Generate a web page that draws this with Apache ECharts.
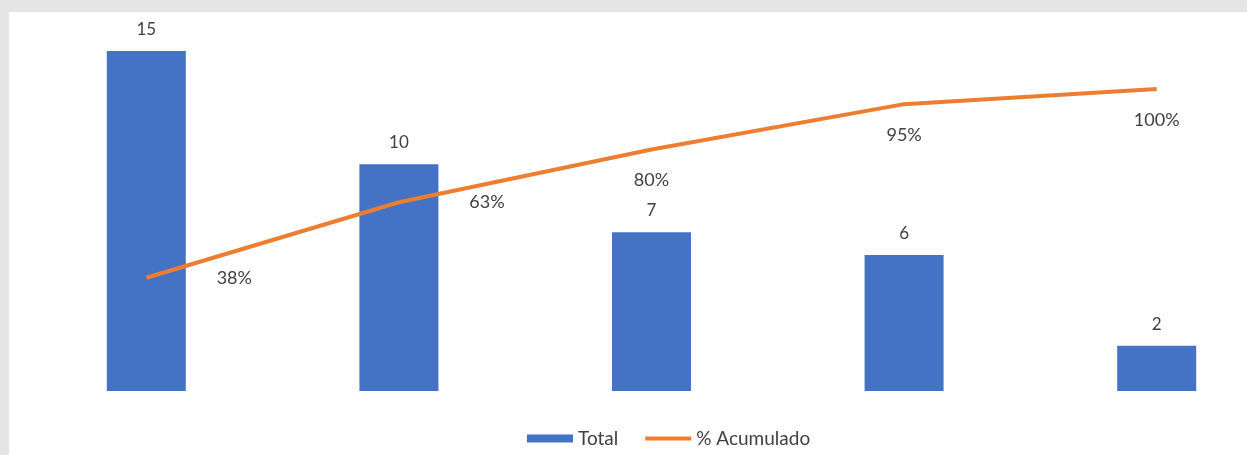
<!DOCTYPE html>
<html>
<head>
<meta charset="utf-8">
<script src="https://cdn.jsdelivr.net/npm/echarts@6/dist/echarts.min.js"></script>
<style>
  html, body { margin: 0; padding: 0; background: #e5e5e5; }
  #main { width: 1247px; height: 455px; }
</style>
</head>
<body>
<div id="main"></div>
<script>
// datos del pareto
var categorias = ['A', 'B', 'C', 'D', 'E'];
var totales = [15, 10, 7, 6, 2];
var acumulado = [37.5, 62.5, 80, 95, 100];
// desplazamiento de las etiquetas del % acumulado (px)
var offsetsEtiqueta = [[88, 0], [88, 0], [0, 31], [0, 31], [0, 31]];

var fuente = 'Lato, "Open Sans", sans-serif';
var colorTexto = '#404040';

var chart = echarts.init(document.getElementById('main'), null, { renderer: 'canvas' });

var option = {
  backgroundColor: '#e5e5e5',
  animation: false,
  textStyle: { fontFamily: fuente },
  graphic: [{
    type: 'rect',
    left: 9,
    top: 12,
    z: -10,
    shape: { width: 1238, height: 443 },
    style: { fill: '#ffffff' }
  }],
  grid: {
    left: 20,
    top: 51,
    width: 1263,
    height: 340,
    outerBoundsMode: 'none'
  },
  legend: {
    left: 522,
    top: 424,
    itemWidth: 46,
    itemHeight: 8,
    itemGap: 25,
    textStyle: { fontFamily: fuente, fontSize: 19, color: colorTexto },
    data: [
      { name: 'Total', icon: 'rect' },
      { name: '% Acumulado', itemStyle: { opacity: 0 }, lineStyle: { width: 4 } }
    ]
  },
  xAxis: {
    type: 'category',
    data: categorias,
    show: false
  },
  yAxis: [
    { type: 'value', min: 0, max: 15, show: false },
    { type: 'value', min: 0, max: 112.6, show: false }
  ],
  series: [
    {
      name: 'Total',
      type: 'bar',
      barWidth: 79,
      itemStyle: { color: '#4472C4' },
      label: {
        show: true,
        position: 'top',
        distance: 13,
        fontFamily: fuente,
        fontSize: 17,
        color: colorTexto
      },
      data: totales
    },
    {
      name: '% Acumulado',
      type: 'line',
      yAxisIndex: 1,
      symbol: 'circle',
      symbolSize: 0,
      lineStyle: { color: '#ED7D31', width: 4 },
      itemStyle: { color: '#ED7D31' },
      data: acumulado.map(function (v, i) {
        return {
          value: v,
          label: {
            show: true,
            position: 'inside',
            offset: offsetsEtiqueta[i],
            fontFamily: fuente,
            fontSize: 18,
            color: colorTexto,
            formatter: function (p) { return Math.round(p.value) + '%'; }
          }
        };
      })
    }
  ]
};

chart.setOption(option);
</script>
</body>
</html>
